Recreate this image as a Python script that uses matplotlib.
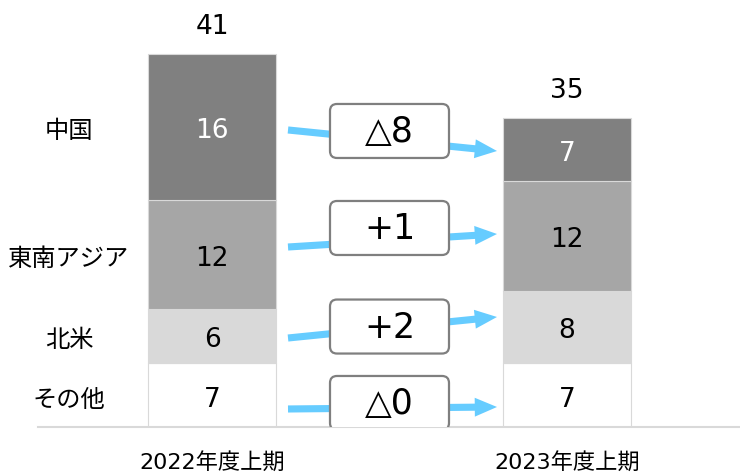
import matplotlib
matplotlib.use("Agg")
import matplotlib.pyplot as plt
from matplotlib.patches import FancyBboxPatch, FancyArrowPatch, ArrowStyle
import numpy as np

plt.rcParams['font.family'] = ['DejaVu Sans', 'Noto Sans CJK JP']

periods = ['2022年度上期', '2023年度上期']
regions = ['その他', '北米', '東南アジア', '中国']          # bottom -> top
values_2022 = [7, 6, 12, 16]
values_2023 = [7, 8, 12, 7]
totals = [41, 35]
changes = ['△0', '+2', '+1', '△8']                      # bottom -> top
seg_colors = ['#FFFFFF', '#D9D9D9', '#A6A6A6', '#808080']
seg_text_colors = ['#000000', '#000000', '#000000', '#FFFFFF']

# layout (data units) for change boxes and arrows, bottom -> top
box_y = [2.64, 11.04, 21.87, 32.53]
arrow_start_y = [1.98, 9.78, 19.78, 32.64]
arrow_end_y = [2.20, 12.09, 21.21, 30.33]

W, H = 740, 477
fig = plt.figure(figsize=(W / 100, H / 100), dpi=100)
ax = fig.add_axes([38 / W, 49 / H, 702 / W, 428 / H])
px_per_x = 355.0
px_per_y = 9.1
ax.set_xlim(-174 / px_per_x, 528 / px_per_x)
ax.set_ylim(0, 428 / px_per_y)

x = np.arange(len(periods))
bar_w = 128 / px_per_x
data = np.array([values_2022, values_2023])

bottoms = np.zeros(len(periods))
for i, reg in enumerate(regions):
    vals = data[:, i]
    ax.bar(x, vals, bar_w, bottom=bottoms, color=seg_colors[i],
           edgecolor='#D9D9D9', linewidth=0.8, zorder=2)
    for j in range(len(periods)):
        ax.annotate(str(vals[j]), (x[j], bottoms[j] + vals[j] / 2),
                    xytext=(0, -2.5), textcoords='offset points', ha='center',
                    va='center', fontsize=19, color=seg_text_colors[i], zorder=3)
    # region label at the left, centred on the first bar's segment
    ax.annotate(reg, (-143 / px_per_x, bottoms[0] + vals[0] / 2),
                xytext=(0, -2.5), textcoords='offset points', ha='center',
                va='center', fontsize=17.5, color='#000000',
                family=['Noto Sans CJK JP', 'DejaVu Sans'])
    bottoms = bottoms + vals

for j in range(len(periods)):
    ax.annotate(str(totals[j]), (x[j], bottoms[j]), xytext=(0, 15),
                textcoords='offset points', ha='center', va='baseline',
                fontsize=19, color='#000000')

# arrows and change boxes
x_start = x[0] + bar_w / 2 + 12 / px_per_x
x_end = x[1] - bar_w / 2 - 6 / px_per_x
style = ArrowStyle.Simple(head_length=1.0, head_width=0.85, tail_width=0.32)
box_w = 119 / px_per_x
box_h = 54 / px_per_y
aspect = px_per_x / px_per_y
for k in range(len(changes)):
    arr = FancyArrowPatch((x_start, arrow_start_y[k]), (x_end, arrow_end_y[k]),
                          arrowstyle=style, mutation_scale=16, color='#66CCFF',
                          linewidth=0, shrinkA=0, shrinkB=0, zorder=4)
    ax.add_patch(arr)
    xc = (x[0] + x[1]) / 2
    box = FancyBboxPatch((xc - box_w / 2, box_y[k] - box_h / 2), box_w, box_h,
                         boxstyle='round,pad=0,rounding_size=%f' % (7 / px_per_x),
                         mutation_aspect=aspect, facecolor='white',
                         edgecolor='#7F7F7F', linewidth=1.6, zorder=5)
    ax.add_patch(box)
    ax.text(xc, box_y[k], changes[k], ha='center', va='center', fontsize=25,
            color='#000000', zorder=6)

for s in ['top', 'right', 'left']:
    ax.spines[s].set_visible(False)
ax.spines['bottom'].set_color('#D9D9D9')
ax.spines['bottom'].set_linewidth(1.5)
ax.set_yticks([])
ax.set_xticks(x)
ax.set_xticklabels(periods, fontsize=16,
                   family=['DejaVu Sans', 'Noto Sans CJK JP'])
ax.tick_params(axis='x', length=0, pad=17)

fig.savefig('out.png', dpi=100)
